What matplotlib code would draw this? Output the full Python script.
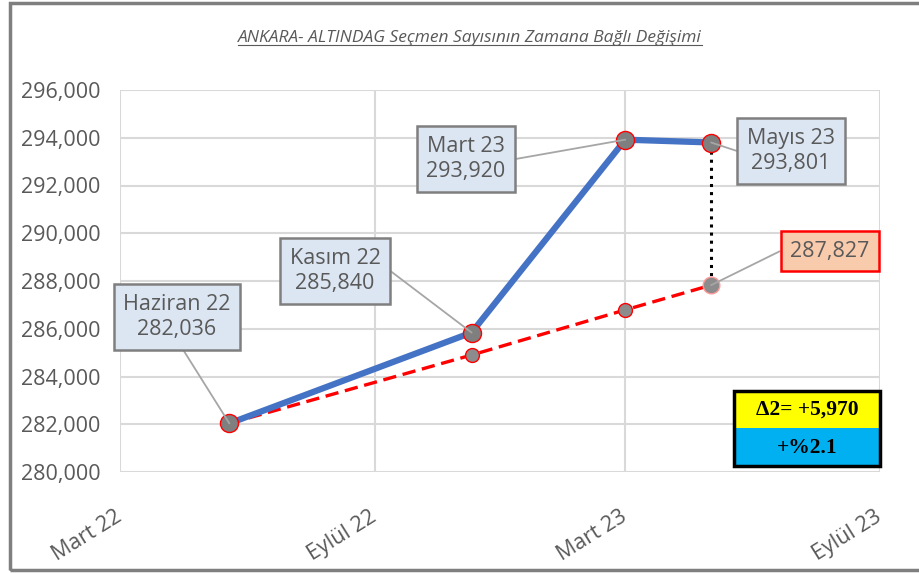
#- Module imports:

import datetime as dt
import matplotlib
matplotlib.use('Agg')
import matplotlib.pyplot as plt
import matplotlib.dates as mdates
from matplotlib.patches import Rectangle
from matplotlib.lines import Line2D


#- Data:

point_dates = [dt.date(2022, 5, 19), dt.date(2022, 11, 10),
               dt.date(2023, 3, 1), dt.date(2023, 5, 2)]
point_names = ['Haziran 22', 'Kasım 22', 'Mart 23', 'Mayıs 23']
voters = [282036, 285840, 293920, 293801]
trend = [282036, 284900, 286790, 287827]

tick_dates = [dt.date(2022, 3, 1), dt.date(2022, 9, 1),
              dt.date(2023, 3, 1), dt.date(2023, 9, 1)]
tick_names = ['Mart 22', 'Eylül 22', 'Mart 23', 'Eylül 23']

delta_text = 'Δ2= +5,970'
pct_text = '+%2.1'
title = 'ANKARA- ALTINDAG Seçmen Sayısının Zamana Bağlı Değişimi'


#- Figure setup (positions in reference pixels):

W, H = 919, 573
def fx(px):
    return px / W
def fy(py):
    return 1 - py / H

plt.rcParams['font.family'] = ['Open Sans', 'DejaVu Sans']
grey_text = '#595959'

fig = plt.figure(figsize=(W / 100, H / 100), dpi=100)
ax = fig.add_axes([fx(120), fy(472), (880 - 120) / W, (472 - 90) / H])

xd = mdates.date2num(point_dates)
xt = mdates.date2num(tick_dates)

ax.plot(xd, trend, '--', color='red', lw=2.4, dashes=(4, 2), zorder=3)
ax.plot(xd[1:3], trend[1:3], 'o', ms=10, mfc='#8c8c8c', mec='red', mew=1, zorder=4)
ax.plot(xd[3], trend[3], 'o', ms=12, mfc='#8c8c8c', mec='#ff9999', mew=1, zorder=4)
ax.plot([xd[3], xd[3]], [voters[3], trend[3]], ':', color='black', lw=2.2, zorder=3)
ax.plot(xd, voters, '-', color='#4472c4', lw=4.5, zorder=5)
ax.plot(xd, voters, 'o', ms=13, mfc='#7f7f7f', mec='red', mew=1, zorder=6)

ax.set_xlim(xt[0], xt[-1])
ax.set_ylim(280000, 296000)
ax.set_yticks(range(280000, 296001, 2000))
ax.set_yticklabels([f'{v:,}' for v in range(280000, 296001, 2000)])
ax.set_xticks(xt)
ax.set_xticklabels(tick_names, rotation=32, ha='right', va='center',
                   rotation_mode='anchor')
ax.tick_params(axis='both', length=0, labelsize=15.5, colors=grey_text)
ax.tick_params(axis='y', pad=14)
ax.tick_params(axis='x', pad=31)
ax.grid(True, color='#d9d9d9', lw=1.5)
ax.set_axisbelow(True)
for s in ax.spines.values():
    s.set_visible(False)


#- Data labels:

box = dict(boxstyle='square,pad=0.45', fc='#dce6f2', ec='#7f7f7f', lw=1.8)
leader = dict(arrowstyle='-', color='#a6a6a6', lw=1.3, shrinkA=0, shrinkB=0)

label_pos = [(177, 317), (335, 271), (466, 159), (791, 151)]
label_conn = [((0.5, 0), 'arc,angleA=-90,armA=0,angleB=0,armB=0,rad=0'),
              ((1, 0.5), 'arc,angleA=0,armA=10,angleB=0,armB=0,rad=0'),
              ((1, 0.5), 'arc,angleA=0,armA=10,angleB=0,armB=0,rad=0'),
              ((0, 0.5), 'arc,angleA=180,armA=10,angleB=0,armB=0,rad=0')]

for i in range(4):
    ap = dict(leader, relpos=label_conn[i][0], connectionstyle=label_conn[i][1])
    ax.annotate(point_names[i] + '\n' + f'{voters[i]:,}', xy=(xd[i], voters[i]),
                xytext=(fx(label_pos[i][0]), fy(label_pos[i][1])),
                textcoords='figure fraction', ha='center', va='center',
                fontsize=15.5, color=grey_text, linespacing=1.25,
                bbox=box, arrowprops=ap, zorder=7)

ax.annotate(f'{trend[3]:,}', xy=(xd[3], trend[3]),
            xytext=(fx(830), fy(251)), textcoords='figure fraction',
            ha='center', va='center', fontsize=15.5, color=grey_text,
            bbox=dict(boxstyle='square,pad=0.45', fc='#f8cbad', ec='red', lw=1.8),
            arrowprops=dict(leader, relpos=(0, 0.5),
                            connectionstyle='arc,angleA=180,armA=10,angleB=0,armB=0,rad=0'),
            zorder=7)


#- Delta box:

fig.add_artist(Rectangle((fx(734), fy(428)), 146 / W, 37 / H, transform=fig.transFigure,
                         fc='yellow', ec='none', zorder=8))
fig.add_artist(Rectangle((fx(734), fy(466)), 146 / W, 38 / H, transform=fig.transFigure,
                         fc='#00b0f0', ec='none', zorder=8))
fig.add_artist(Rectangle((fx(734), fy(466)), 146 / W, 75 / H, transform=fig.transFigure,
                         fc='none', ec='black', lw=2.5, zorder=9))
fig.text(fx(807), fy(410), delta_text, ha='center', va='center', fontsize=15.5,
         fontweight='bold', family='Liberation Serif', color='black', zorder=10)
fig.text(fx(807), fy(448), pct_text, ha='center', va='center', fontsize=15.5,
         fontweight='bold', family='Liberation Serif', color='black', zorder=10)


#- Title with underline and outer frame:

t = fig.text(fx(470), fy(38), title, ha='center', va='center', fontsize=12.5,
             style='italic', color=grey_text)
fig.canvas.draw()
bb = t.get_window_extent().transformed(fig.transFigure.inverted())
fig.add_artist(Line2D([bb.x0, bb.x1], [bb.y0 + 0.002, bb.y0 + 0.002],
                      transform=fig.transFigure, color=grey_text, lw=0.8))

fig.add_artist(Rectangle((fx(10), fy(570)), 930 / W, 567 / H, transform=fig.transFigure,
                         fc='none', ec='#7f7f7f', lw=2.5, clip_on=False))

fig.savefig('out.png', dpi=100)
